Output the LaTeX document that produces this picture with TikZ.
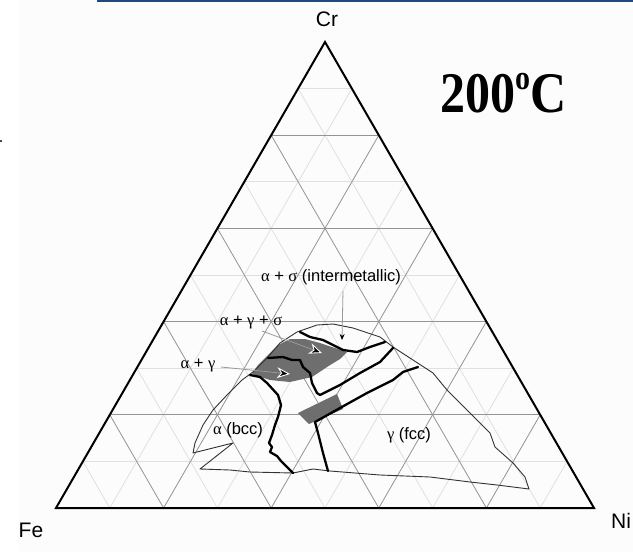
\documentclass[tikz,border=0pt]{standalone}
\usepackage{fontspec}
\setmainfont{Liberation Sans}
\newfontfamily\grk{Liberation Serif}
\newfontfamily\tnr{Liberation Serif}
\usetikzlibrary{arrows.meta,calc}
\definecolor{topblue}{HTML}{1F497D}
\definecolor{paper}{HTML}{FCFCFC}
\begin{document}
\begin{tikzpicture}[x=1pt,y=-1pt,
  gridmajor/.style={draw=black!42,line width=0.8pt},
  gridminor/.style={draw=black!12,line width=0.8pt},
  outline/.style={draw=black,line width=2pt,line join=miter},
  thinb/.style={draw=black!80,line width=0.9pt,line join=round},
  phase/.style={draw=black,line width=2.3pt,line join=round,line cap=round},
  grayfill/.style={fill=black!57,draw=none},
  leader/.style={draw=black!40,line width=0.8pt},
  bigtip/.style={-{Stealth[length=13pt,width=11pt,inset=4pt,color=white,fill=black,line width=0.9pt]}},
  smalltip/.style={-{Stealth[length=6pt,width=5pt,black]}},
  lbl/.style={font=\fontsize{16.5}{18}\selectfont,inner sep=0pt},
  corner/.style={font=\fontsize{21}{24}\selectfont,inner sep=0pt}]
\useasboundingbox (0,0) rectangle (633,560);
\fill[white] (0,0) rectangle (633,560);
\fill[paper] (18,0) rectangle (633,552);
% top rule and small mark
\draw[topblue,line width=2pt] (97,1) -- (633,1);
\fill[black!70] (0,139.5) rectangle (1.5,141.5);
% corners
\coordinate (Fe) at (56,508);
\coordinate (Ni) at (594,508);
\coordinate (Cr) at (325,42);
% grid
\foreach \f in {0.1,0.3,0.5,0.7,0.9}{
  \pgfmathsetmacro\g{1-\f}
  \draw[gridminor] ($(Fe)!\f!(Ni)$) -- ($(Fe)!\f!(Cr)$);
  \draw[gridminor] ($(Fe)!\f!(Ni)$) -- ($(Ni)!\g!(Cr)$);
  \draw[gridminor] ($(Fe)!\f!(Cr)$) -- ($(Ni)!\f!(Cr)$);
}
\foreach \f in {0.2,0.4,0.6,0.8}{
  \pgfmathsetmacro\g{1-\f}
  \draw[gridmajor] ($(Fe)!\f!(Ni)$) -- ($(Fe)!\f!(Cr)$);
  \draw[gridmajor] ($(Fe)!\f!(Ni)$) -- ($(Ni)!\g!(Cr)$);
  \draw[gridmajor] ($(Fe)!\f!(Cr)$) -- ($(Ni)!\f!(Cr)$);
}
% gray regions
\fill[grayfill] (252,374) -- (258,365) -- (268,355) -- (278,345) -- (290,339)
  -- (305,339) -- (320,343) -- (335,348) -- (347,352) -- (340,359) -- (327,367)
  -- (312,377) -- (290,382) -- (270,380) -- cycle;
\fill[grayfill] (298,413) -- (337,394) -- (343,409) -- (309,424) -- cycle;
% thin boundary
\draw[thinb] (200,469) -- (233,443) -- (193,453) -- (195,443) -- (203,425)
  -- (213,410) -- (227,395) -- (242,380) -- (253,372) -- (267,358) -- (280,343)
  -- (297,332) -- (317,325) -- (333,324) -- (353,328) -- (380,337) -- (393,347)
  -- (413,360) -- (433,373) -- (447,390) -- (470,413) -- (488,431) -- (490,433)
  -- (495,447) -- (513,463) -- (525,477) -- (529,489) -- (497,485) -- (470,482)
  -- (430,477) -- (380,475) -- (330,471) -- (313,469) -- (293,473) -- (250,472)
  -- (230,470) -- cycle;
% thick phase boundaries
\draw[phase] (300,332) -- (310,337) -- (323,340) -- (333,345) -- (343,350)
  -- (357,352) -- (370,347) -- (385,342);
\draw[phase] (268,358) -- (283,357) -- (292,360) -- (300,360) -- (303,367)
  -- (310,373) -- (312,383) -- (317,393) -- (320,395) -- (340,385) -- (360,373)
  -- (380,362) -- (393,348);
\draw[phase] (328,471) -- (323,453) -- (318,433) -- (315,422) -- (340,408)
  -- (367,393) -- (393,380) -- (403,372) -- (418,367);
\draw[phase] (250,375) -- (260,377) -- (267,383) -- (278,395) -- (281,405)
  -- (278,417) -- (275,425) -- (272,435) -- (269,443) -- (272,447) -- (270,452)
  -- (277,456) -- (281,461) -- (293,473);
% triangle
\draw[outline] (Fe) -- (Ni) -- (Cr) -- cycle;
% labels
\node[corner] (lCr) at (327,19) {Cr};
\node[corner] (lFe) at (31,530) {Fe};
\node[corner,anchor=west] (lNi) at (611,521) {Ni};
\node[anchor=base west,inner sep=0pt,font=\tnr\bfseries\fontsize{50}{50}\selectfont] (lT) at (440,112)
  {\scalebox{1}[1.15]{200\raisebox{20pt}{\fontsize{30}{30}\selectfont o}C}};
\node[lbl] (lAS) at (331,277) {{\grk α} + {\grk σ} (intermetallic)};
\node[lbl] (lAGS) at (251,322) {{\grk α} + {\grk γ} + {\grk σ}};
\node[lbl] (lAG) at (198,365) {{\grk α} + {\grk γ}};
\node[lbl] (lA) at (238,430) {{\grk α} (bcc)};
\node[lbl] (lG) at (409,435) {{\grk γ} (fcc)};
% leaders
\coordinate (agsL) at (262,331);
\coordinate (agsT) at (322,353);
\coordinate (agL) at (221,367);
\coordinate (agT) at (290,374);
\coordinate (asL) at (343,291);
\coordinate (asT) at (342,340);
\draw[leader,bigtip] (agsL) -- (agsT);
\draw[leader,bigtip] (agL) -- (agT);
\draw[leader,smalltip] (asL) -- (asT);
\end{tikzpicture}
\end{document}
